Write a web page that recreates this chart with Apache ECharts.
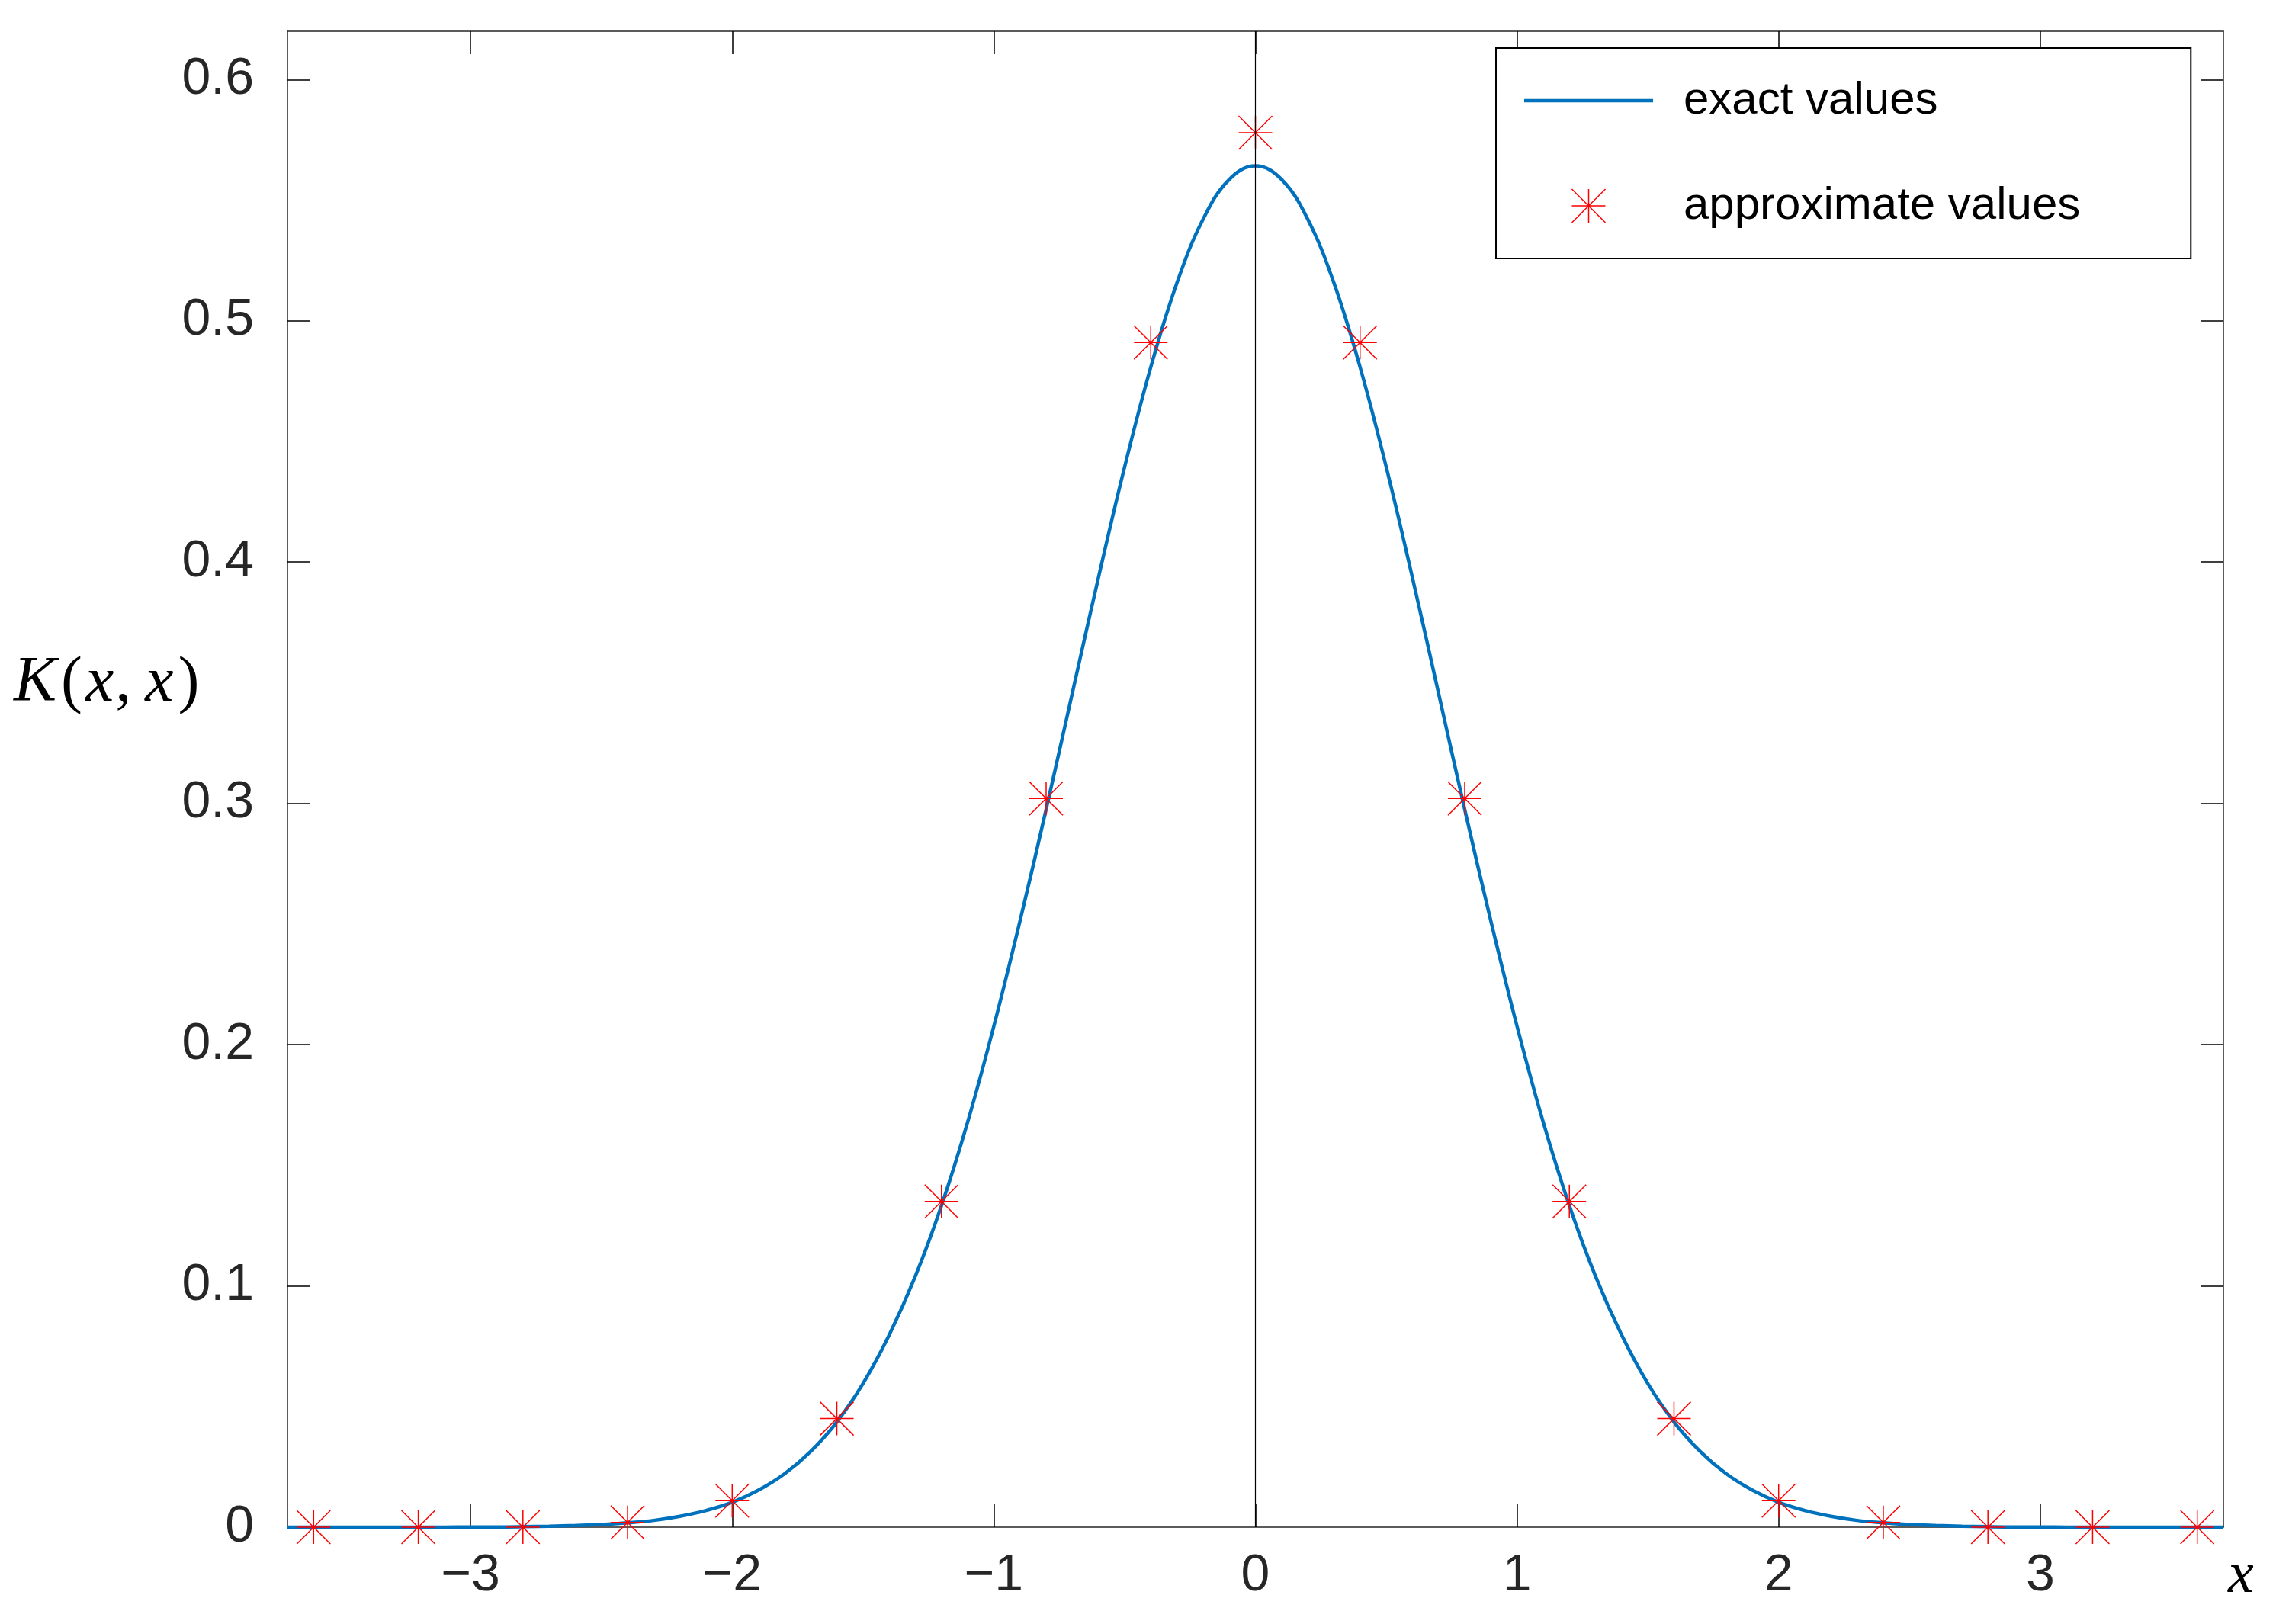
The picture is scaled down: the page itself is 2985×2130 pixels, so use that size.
<!DOCTYPE html>
<html>
<head>
<meta charset="utf-8">
<script src="https://cdn.jsdelivr.net/npm/echarts@6/dist/echarts.min.js"></script>
<style>
  html, body { margin: 0; padding: 0; background: #fff; }
  #chart { width: 2985px; height: 2130px; }
</style>
</head>
<body>
<div id="chart"></div>
<script>
// ---- data ----
const exactX = [-3.7,-3.6,-3.5,-3.4,-3.3,-3.2,-3.1,-3.0,-2.9,-2.8,-2.7,-2.6,-2.5,-2.4,-2.3,-2.2,-2.1,-2.0,-1.9,-1.8,-1.7,-1.6,-1.5,-1.4,-1.3,-1.2,-1.1,-1.0,-0.9,-0.8,-0.7,-0.6,-0.5,-0.4,-0.3,-0.2,-0.1,0.0,0.1,0.2,0.3,0.4,0.5,0.6,0.7,0.8,0.9,1.0,1.1,1.2,1.3,1.4,1.5,1.6,1.7,1.8,1.9,2.0,2.1,2.2,2.3,2.4,2.5,2.6,2.7,2.8,2.9,3.0,3.1,3.2,3.3,3.4,3.5,3.6,3.7];
const exactY = [0.0000,0.0000,0.0000,0.0000,0.0000,0.0000,0.0000,0.0001,0.0001,0.0002,0.0004,0.0007,0.0011,0.0018,0.0028,0.0045,0.0069,0.0103,0.0153,0.0221,0.0314,0.0436,0.0595,0.0796,0.1040,0.1333,0.1679,0.2076,0.2512,0.2975,0.3456,0.3936,0.4394,0.4808,0.5157,0.5421,0.5586,0.5642,0.5586,0.5421,0.5157,0.4808,0.4394,0.3936,0.3456,0.2975,0.2512,0.2076,0.1679,0.1333,0.1040,0.0796,0.0595,0.0436,0.0314,0.0221,0.0153,0.0103,0.0069,0.0045,0.0028,0.0018,0.0011,0.0007,0.0004,0.0002,0.0001,0.0001,0.0000,0.0000,0.0000,0.0000,0.0000,0.0000,0.0000];
const approxX = [-3.6,-3.2,-2.8,-2.4,-2.0,-1.6,-1.2,-0.8,-0.4,0.0,0.4,0.8,1.2,1.6,2.0,2.4,2.8,3.2,3.6];
const approxY = [0.000,0.000,0.000,0.002,0.011,0.045,0.135,0.302,0.491,0.578,0.491,0.302,0.135,0.045,0.011,0.002,0.000,0.000,0.000];
const xTicks = [-3,-2,-1,0,1,2,3];
const yTicks = [0,0.1,0.2,0.3,0.4,0.5,0.6];
const seriesNames = ['exact values', 'approximate values'];
const xLabel = 'x';
const yLabel = '{i|K}{n|(}{i|x}{c|,}{i|x}{r|)}';

const exactData = exactX.map((x, i) => [x, exactY[i]]);
const approxData = approxX.map((x, i) => [x, approxY[i]]);

const axisColor = '#262626';
const labelFont = { fontFamily: 'Liberation Sans, Arial, sans-serif', fontSize: 68, color: '#262626' };
const starPath = 'path://M0,22L44,22M22,0L22,44M0,0L44,44M44,0L0,44';
const lineIconPath = 'path://M0,0L0,0M0,19.75L169,19.75L169,24.25L0,24.25ZM169,44L169,44';

const xFmt = v => String(v).replace('-', '\u2212');
const yFmt = v => (v === 0 ? '0' : v.toFixed(1));

function xAxisDef(pos, showLabel) {
  return {
    type: 'value', position: pos, min: -3.7, max: 3.7,
    axisLine: { show: true, onZero: false, lineStyle: { color: axisColor, width: 1.5 } },
    axisTick: { show: true, inside: true, length: 30, customValues: xTicks, lineStyle: { color: '#000', width: 1.5 } },
    axisLabel: Object.assign({ show: showLabel, margin: 30, customValues: xTicks, formatter: xFmt }, labelFont),
    splitLine: { show: false }
  };
}
function yAxisDef(pos, showLabel) {
  return {
    type: 'value', position: pos, min: 0, max: 0.62,
    axisLine: { show: true, onZero: false, lineStyle: { color: axisColor, width: 1.5 } },
    axisTick: { show: true, inside: true, length: 30, customValues: yTicks, lineStyle: { color: '#000', width: 1.5 } },
    axisLabel: Object.assign({ show: showLabel, margin: 44, customValues: yTicks, formatter: yFmt }, labelFont),
    splitLine: { show: false }
  };
}

const serif = '"Liberation Serif", "Times New Roman", serif';
const chart = echarts.init(document.getElementById('chart'), null, { renderer: 'canvas' });
chart.setOption({
  backgroundColor: '#ffffff',
  animation: false,
  grid: { left: 377, right: 69, top: 41, bottom: 127, containLabel: false },
  xAxis: [xAxisDef('bottom', true), xAxisDef('top', false)],
  yAxis: [yAxisDef('left', true), yAxisDef('right', false)],
  legend: {
    orient: 'vertical',
    left: 1962, top: 63,
    padding: [39, 145, 39, 37],
    itemGap: 78,
    itemWidth: 169, itemHeight: 44,
    borderColor: '#000', borderWidth: 2,
    backgroundColor: '#fff',
    textStyle: { fontFamily: 'Liberation Sans, Arial, sans-serif', fontSize: 60, color: '#000', padding: [0, 0, 0, 35] },
    data: [
      { name: seriesNames[0], icon: lineIconPath, itemStyle: { color: '#0072BD', borderWidth: 0 } },
      { name: seriesNames[1], icon: starPath, itemStyle: { color: 'none', borderColor: '#ff0000', borderWidth: 1.5 } }
    ]
  },
  series: [
    {
      name: seriesNames[0], type: 'line', xAxisIndex: 0, yAxisIndex: 0,
      data: exactData, symbol: 'none', smooth: 0.4,
      lineStyle: { color: '#0072BD', width: 4.5 },
      itemStyle: { color: '#0072BD' },
      z: 2
    },
    {
      name: seriesNames[1], type: 'scatter', xAxisIndex: 0, yAxisIndex: 0,
      data: approxData, symbol: starPath, symbolSize: 44,
      itemStyle: { color: 'none', borderColor: '#ff0000', borderWidth: 1.5, opacity: 1 },
      z: 3,
      markLine: {
        silent: true, symbol: ['none', 'none'], label: { show: false },
        lineStyle: { color: '#000', width: 1.2, type: 'solid' },
        data: [{ xAxis: 0 }]
      }
    }
  ],
  graphic: [
    {
      type: 'text', x: 18, y: 897,
      style: {
        text: yLabel, fill: '#000', verticalAlign: 'middle',
        rich: {
          i: { fontFamily: serif, fontStyle: 'italic', fontSize: 84, fill: '#000' },
          n: { fontFamily: serif, fontSize: 84, fill: '#000', padding: [0, 4, 0, 6] },
          c: { fontFamily: serif, fontSize: 84, fill: '#000', padding: [0, 18, 0, 2] },
          r: { fontFamily: serif, fontSize: 84, fill: '#000', padding: [0, 0, 0, 6] }
        }
      }
    },
    {
      type: 'text', left: 2922, top: 2030,
      style: { text: xLabel, font: 'italic 76px ' + serif, fill: '#000' }
    }
  ]
});
</script>
</body>
</html>
